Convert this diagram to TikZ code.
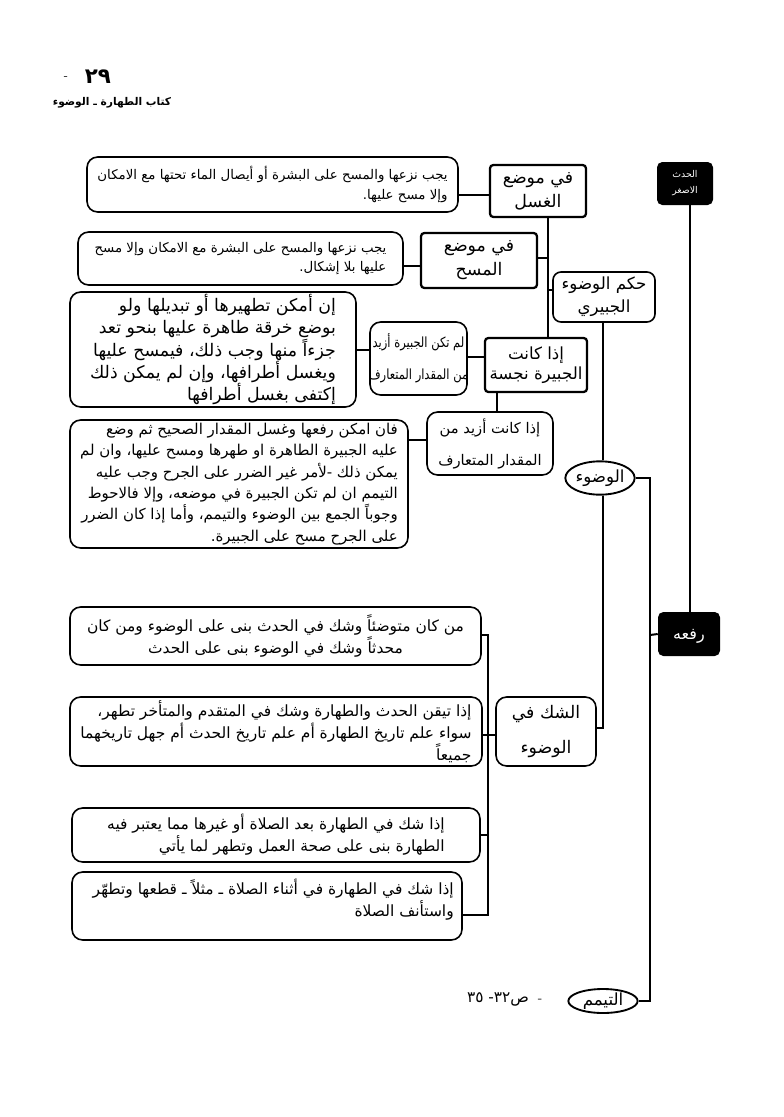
\documentclass[tikz,border=0pt]{standalone}
\usepackage{fontspec}
\usetikzlibrary{shapes.geometric,fit}
\TeXXeTstate=1
\newfontfamily\arabicfont[Script=Arabic]{DejaVu Sans}
\newfontfamily\arabiccond[Script=Arabic, FakeStretch=0.82]{DejaVu Sans}
\newcommand{\rl}[1]{\beginR #1\endR}
\tikzset{
  rb/.style={draw, line width=1.2pt, rounded corners=8pt, inner sep=0pt},
  sb/.style={draw, line width=1.7pt, rounded corners=2.5pt, inner sep=0pt},
  blk/.style={fill=black, rounded corners=4pt, inner sep=0pt},
  el/.style={draw, ellipse, line width=1.4pt, inner sep=0pt},
  ln/.style={line width=1.5pt},
  thinln/.style={line width=0.9pt},
  small/.style={font=\arabicfont\fontsize{10}{14.5}\selectfont, align=right, inner sep=0pt},
  big/.style={font=\arabicfont\fontsize{13}{16.5}\selectfont, align=right, inner sep=0pt},
  mid/.style={font=\arabicfont\fontsize{11.2}{16}\selectfont, align=right, inner sep=0pt},
  low/.style={font=\arabicfont\fontsize{11.6}{16.5}\selectfont, align=right, inner sep=0pt},
  head/.style={font=\arabicfont\fontsize{13}{18}\selectfont, align=center, inner sep=0pt},
  wide/.style={font=\arabicfont\fontsize{10.5}{24}\selectfont, align=center, inner sep=0pt},
}
\begin{document}
\begin{tikzpicture}[x=0.75pt,y=-0.75pt]
\path[use as bounding box, fill=white] (0,0) rectangle (783,1117);
% header
\node[font=\arabicfont\bfseries\fontsize{16}{16}\selectfont] (pg) at (98,77) {\rl{٢٩}};
\node[font=\fontsize{9}{9}\selectfont] (pgdash) at (66,78) {-};
\node[font=\arabicfont\bfseries\fontsize{8}{8}\selectfont] (ttl) at (112,103) {\rl{كتاب الطهارة ـ الوضوء}};
% black boxes
\node[blk, fit={(657,162) (713,205)}] (hadath) {};
\node[font=\arabicfont\fontsize{7}{12}\selectfont, align=center, text=white, inner sep=0pt] (hadatht) at (hadath.center) {\rl{الحدث}\\\rl{الاصغر}};
\node[blk, fit={(658,612) (720,656)}] (rafa) {};
\node[font=\arabicfont\fontsize{12}{12}\selectfont, text=white] (rafat) at ([yshift=-2pt]rafa.center) {\rl{رفعه}};
% upper part
\node[rb, fit={(87,157) (458,212)}] (t1) {};
\node[small] (t1t) at (t1.center) {\rl{يجب نزعها والمسح على البشرة أو أيصال الماء تحتها مع الامكان}\\\rl{وإلا مسح عليها.}};
\node[sb, fit={(490,165) (586,217)}] (ghusl) {};
\node[head] (ghuslt) at (ghusl.center) {\rl{في موضع}\\\rl{الغسل}};
\node[rb, fit={(78,232) (403,285)}] (t2) {};
\node[small] (t2t) at (t2.center) {\rl{يجب نزعها والمسح على البشرة مع الامكان وإلا مسح}\\\rl{عليها بلا إشكال.}};
\node[sb, fit={(421,233) (537,288)}] (masah) {};
\node[head] (masaht) at (masah.center) {\rl{في موضع}\\\rl{المسح}};
\node[rb, rounded corners=6pt, fit={(553,272) (655,322)}] (hukm) {};
\node[head, font=\arabicfont\fontsize{12.5}{17}\selectfont] (hukmt) at (hukm.center) {\rl{حكم الوضوء}\\\rl{الجبيري}};
\node[rb, fit={(70,292) (356,407)}] (t3) {};
\node[big] (t3t) at (t3.center) {\rl{إن أمكن تطهيرها أو تبديلها ولو}\\\rl{بوضع خرقة طاهرة عليها بنحو تعد}\\\rl{جزءاً منها وجب ذلك، فيمسح عليها}\\\rl{ويغسل أطرافها، وإن لم يمكن ذلك}\\\rl{إكتفى بغسل أطرافها}};
\node[rb, fit={(370,322) (467,395)}] (lam) {};
\node[wide, font=\arabiccond\fontsize{10.5}{24}\selectfont] (lamt) at (lam.center) {\rl{لم تكن الجبيرة أزيد}\\\rl{من المقدار المتعارف}};
\node[sb, fit={(485,338) (587,392)}] (najisa) {};
\node[head, font=\arabicfont\fontsize{12.5}{15}\selectfont] (najisat) at (najisa.center) {\rl{إذا كانت}\\\rl{الجبيرة نجسة}};
\node[rb, fit={(427,412) (553,475)}] (azyad) {};
\node[wide, font=\arabicfont\fontsize{11}{24}\selectfont] (azyadt) at (azyad.center) {\rl{إذا كانت أزيد من}\\\rl{المقدار المتعارف}};
\node[rb, fit={(70,420) (408,548)}] (t4) {};
\node[mid] (t4t) at (t4.center) {\rl{فان امكن رفعها وغسل المقدار الصحيح ثم وضع}\\\rl{عليه الجبيرة الطاهرة او طهرها ومسح عليها، وان لم}\\\rl{يمكن ذلك -لأمر غير الضرر على الجرح وجب عليه}\\\rl{التيمم ان لم تكن الجبيرة في موضعه، وإلا فالاحوط}\\\rl{وجوباً الجمع بين الوضوء والتيمم، وأما إذا كان الضرر}\\\rl{على الجرح مسح على الجبيرة.}};
\node[el, minimum width=52pt, minimum height=25pt, font=\arabicfont\fontsize{12.5}{12.5}\selectfont] (wudu) at (600,478) {\rl{الوضوء}};
% lower part
\node[rb, fit={(70,607) (481,665)}] (s1) {};
\node[low, align=center] (s1t) at (s1.center) {\rl{من كان متوضئاً وشك في الحدث بنى على الوضوء ومن كان}\\\rl{محدثاً وشك في الوضوء بنى على الحدث}};
\node[rb, fit={(70,697) (482,766)}] (s2) {};
\node[low] (s2t) at (s2.center) {\rl{إذا تيقن الحدث والطهارة وشك في المتقدم والمتأخر تطهر،}\\\rl{سواء علم تاريخ الطهارة أم علم تاريخ الحدث أم جهل تاريخهما}\\\rl{جميعاً}};
\node[rb, fit={(496,697) (596,766)}] (shak) {};
\node[head, font=\arabicfont\fontsize{13}{26}\selectfont] (shakt) at (shak.center) {\rl{الشك في}\\\rl{الوضوء}};
\node[rb, fit={(72,808) (480,862)}] (s3) {};
\node[low] (s3t) at (s3.center) {\rl{إذا شك في الطهارة بعد الصلاة أو غيرها مما يعتبر فيه}\\\rl{الطهارة بنى على صحة العمل وتطهر لما يأتي}};
\node[rb, fit={(72,872) (462,940)}] (s4) {};
\node[low, anchor=north east] (s4t) at (454,879) {\rl{إذا شك في الطهارة في أثناء الصلاة ـ مثلاً ـ قطعها وتطهّر}\\\rl{واستأنف الصلاة}};
\node[el, minimum width=52pt, minimum height=18pt, font=\arabicfont\fontsize{12.5}{12.5}\selectfont] (tay) at (603,1001) {\rl{التيمم}};
\node[font=\arabicfont\fontsize{11.5}{11.5}\selectfont] (ref) at (498,999) {\rl{ص٣٢- ٣٥}};
\node[font=\fontsize{10}{10}\selectfont] (refdash) at (540,1001) {-};
% junction coordinates
\coordinate (a1) at (548,258);
\coordinate (a2) at (548,290);
\coordinate (r1) at (650,478);
\coordinate (r2) at (650,635);
\coordinate (r3) at (650,1001);
\coordinate (w1) at (603,728);
\coordinate (b1) at (488,635);
\coordinate (b2) at (488,735);
\coordinate (b3) at (488,835);
\coordinate (b4) at (488,915);
% connectors
\draw[ln] (t1.east |- 0,195) -- (ghusl.west |- 0,195);
\draw[ln] (ghusl.south -| a1) -- (najisa.north -| a1);
\draw[ln] (t2.east |- 0,266) -- (masah.west |- 0,266);
\draw[ln] (masah.east |- a1) -- (a1);
\draw[ln] (hukm.west |- a2) -- (a2);
\draw[ln] (t3.east |- 0,350) -- (lam.west |- 0,350);
\draw[ln] (lam.east |- 0,357) -- (najisa.west |- 0,357);
\draw[ln] (najisa.south -| 497,0) -- (azyad.north -| 497,0);
\draw[ln] (azyad.west |- 0,440) -- (t4.east |- 0,440);
\draw[ln] (hukm.south -| 603,0) -- (wudu.north -| 603,0);
\draw[ln] (wudu.east) -- (r1) -- (r3) -- (tay.east);
\draw[ln] (rafa.west) -- (r2);
\draw[ln] (hadath.south -| 690,0) -- (rafa.north -| 690,0);
\draw[ln] (wudu.south -| w1) -- (w1) -- (shak.east |- w1);
\draw[thinln] (s1.east |- b1) -- (b1) -- (b4) -- (s4.east |- b4);
\draw[ln] (s2.east |- b2) -- (shak.west |- b2);
\draw[thinln] (s3.east |- b3) -- (b3);
\end{tikzpicture}
\end{document}
